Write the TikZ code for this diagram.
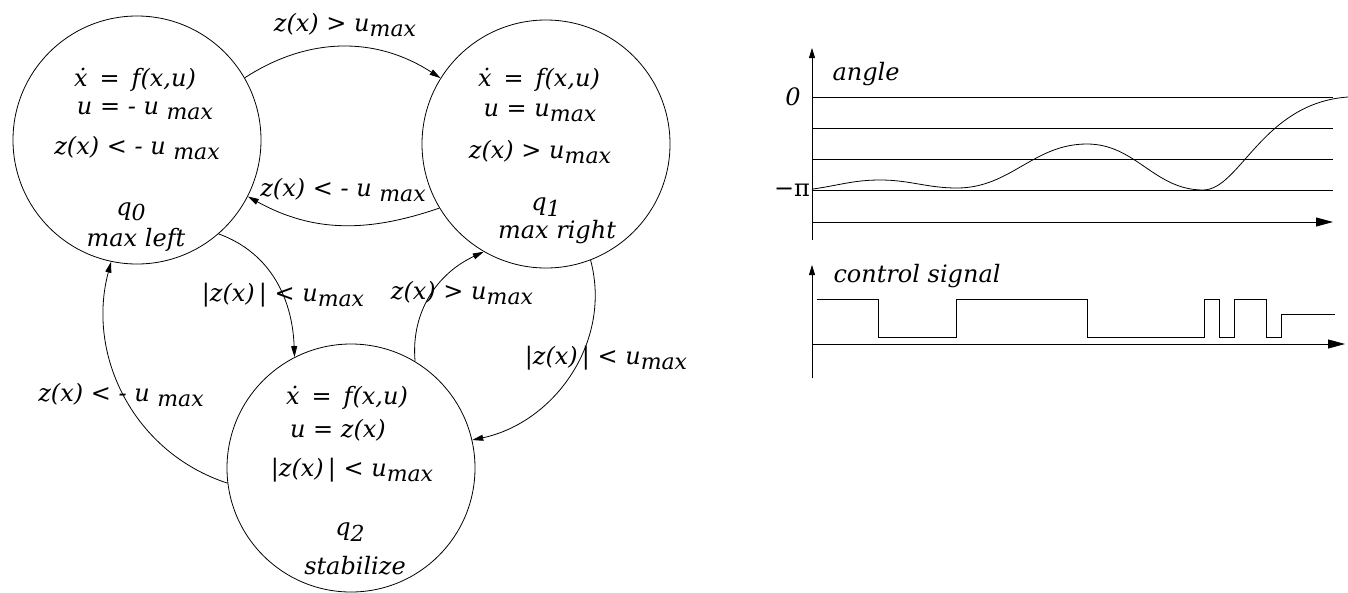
\documentclass[tikz,border=0pt]{standalone}
\usepackage{fontspec}
\setmainfont{DejaVu Serif}
\usetikzlibrary{arrows.meta}
\newcommand{\sbx}[1]{\raisebox{-0.22em}{\fontsize{22}{22}\selectfont #1}}
\newcommand{\vbar}{\textup{|}}
\tikzset{
  state/.style={circle,draw,line width=0.8pt,minimum size=248pt,inner sep=0pt},
  lbl/.style={font=\fontsize{24}{26}\selectfont\itshape,inner sep=0pt},
  trans/.style={line width=0.8pt,-{Triangle[length=11pt,width=6pt]}},
  axis/.style={line width=0.8pt},
  sig/.style={line width=0.8pt},
}
\begin{document}
\begin{tikzpicture}[x=1pt,y=-1pt]
\useasboundingbox (0,0) rectangle (1348,592);
% states
\node[state] (q0) at (137,140) {};
\node[state] (q1) at (546,144) {};
\node[state] (q2) at (351,468) {};
% q0 text
\node[lbl] (a1) at (135,80) {ẋ\enspace=\enspace f(x,u)};
\node[lbl] (a2) at (145,111) {u = - u \sbx{max}};
\node[lbl] (a3) at (137,148) {z(x) < - u \sbx{max}};
\node[lbl] (a4) at (131,212) {q\sbx{0}};
\node[lbl] (a5) at (136,240) {max left};
% q1 text
\node[lbl] (b1) at (539,80) {ẋ\enspace=\enspace f(x,u)};
\node[lbl] (b2) at (540,113) {u = u\sbx{max}};
\node[lbl] (b3) at (540,152) {z(x) > u\sbx{max}};
\node[lbl] (b4) at (546,207) {q\sbx{1}};
\node[lbl] (b5) at (557,232) {max right};
% q2 text
\node[lbl] (c1) at (347,398) {ẋ\enspace=\enspace f(x,u)};
\node[lbl] (c2) at (338,430) {u = z(x)};
\node[lbl] (c3) at (352,470) {\vbar z(x)\,\vbar{} < u\sbx{max}};
\node[lbl] (c4) at (350,532) {q\sbx{2}};
\node[lbl] (c5) at (355,566) {stabilize};
% transitions
\draw[trans] (q0.30) to[out=33,in=147] (q1.148);
\node[lbl] (t1) at (345,25) {z(x) > u\sbx{max}};
\draw[trans] (q1.211) to[out=199,in=331] (q0.333);
\node[lbl] (t2) at (343,190) {z(x) < - u \sbx{max}};
\draw[trans] (q0.-49) to[out=-20,in=92] (q2.117);
\node[lbl] (t3) at (283,295) {\vbar z(x)\,\vbar{} < u\sbx{max}};
\draw[trans] (q2.59) to[out=95,in=205] (q1.240);
\node[lbl] (t4) at (462,293) {z(x) > u\sbx{max}};
\draw[trans] (q1.-69) to[out=-75,in=12] (q2.13);
\node[lbl] (t5) at (606,358) {\vbar z(x)\,\vbar{} < u\sbx{max}};
\draw[trans] (q2.187) to[out=162,in=255] (q0.258);
\node[lbl] (t6) at (121,395) {z(x) < - u \sbx{max}};
% angle plot
\coordinate (ay0) at (812,240);
\coordinate (ay1) at (812,48);
\draw[axis,-{Triangle[length=10pt,width=6pt]}] (ay0) -- (ay1);
\foreach \yy in {97,128,159,190} \draw[axis] (812,\yy) -- (1333,\yy);
\coordinate (ax0) at (812,222);
\coordinate (ax1) at (1333,222);
\draw[axis,-{Triangle[length=17pt,width=9pt]}] (ax0) -- (ax1);
\node[lbl] (angle) at (866,74) {angle};
\node[lbl] (zero) at (793,97) {0};
\node[lbl,font=\fontsize{24}{26}\selectfont] (mpi) at (792,190) {−π};
\draw[line width=0.8pt] (813,189) to[out=8,in=180] (880,180) to[out=0,in=180] (957,188)
  to[out=0,in=180] (1087,144) to[out=0,in=180] (1203,190)
  .. controls (1240,190) and (1262,103) .. (1348,97);
% control signal
\coordinate (cy0) at (812,378);
\coordinate (cy1) at (812,265);
\draw[axis,-{Triangle[length=10pt,width=6pt]}] (cy0) -- (cy1);
\coordinate (cx0) at (812,344);
\coordinate (cx1) at (1345,344);
\draw[axis,-{Triangle[length=17pt,width=9pt]}] (cx0) -- (cx1);
\node[lbl] (ctrl) at (917,276) {control signal};
\draw[sig] (817,299) -| (878,337) -| (956,299) -| (1087,337) -| (1204,299)
  -| (1219,337) -| (1234,299) -| (1266,337) -| (1281,314) -- (1335,314);
\end{tikzpicture}
\end{document}
